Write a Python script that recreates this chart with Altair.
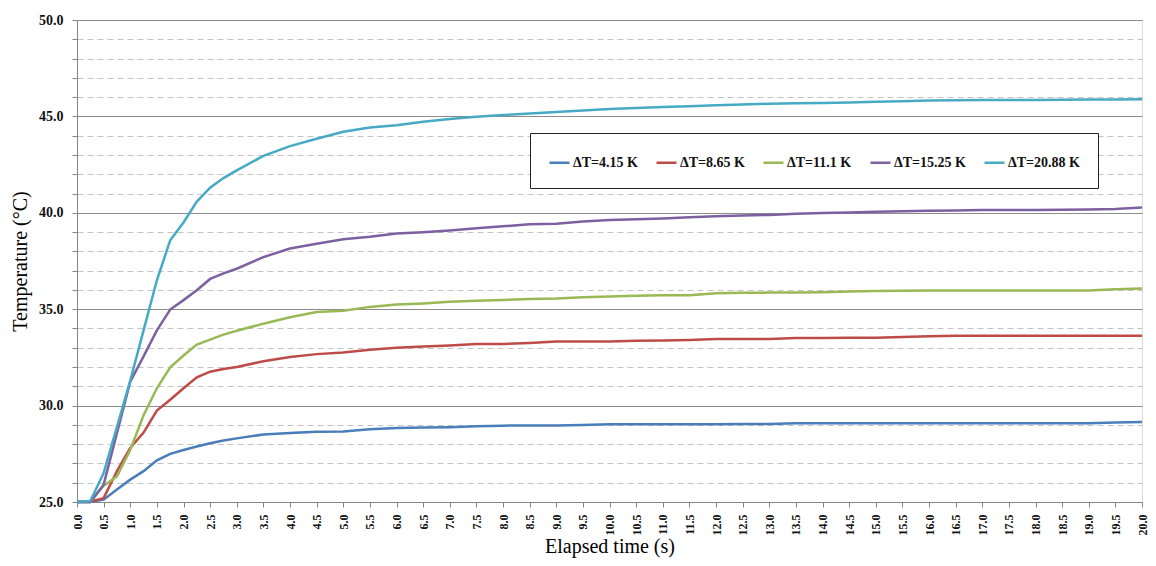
import altair as alt
import pandas as pd

times = [0.0, 0.25, 0.5, 0.75, 1.0, 1.25, 1.5, 1.75, 2.0, 2.25, 2.5, 2.75, 3.0,
         3.5, 4.0, 4.5, 5.0, 5.5, 6.0, 6.5, 7.0, 7.5, 8.0, 8.5, 9.0, 9.5, 10.0,
         10.5, 11.0, 11.5, 12.0, 12.5, 13.0, 13.5, 14.0, 14.5, 15.0, 15.5, 16.0,
         16.5, 17.0, 17.5, 18.0, 18.5, 19.0, 19.5, 20.0]

series_names = ["ΔT=4.15 K", "ΔT=8.65 K", "ΔT=11.1 K", "ΔT=15.25 K", "ΔT=20.88 K"]
series_colors = ["#4A7EBB", "#BE4B48", "#98B954", "#7D60A0", "#46AAC5"]

dt_4_15 = [25.0, 25.0, 25.12, 25.65, 26.16, 26.6, 27.16, 27.5, 27.7, 27.88, 28.05, 28.19, 28.3,
           28.5, 28.58, 28.65, 28.66, 28.77, 28.84, 28.86, 28.88, 28.93, 28.96, 28.97, 28.97, 29.0, 29.03,
           29.03, 29.03, 29.03, 29.03, 29.04, 29.05, 29.08, 29.08, 29.08, 29.08, 29.08, 29.08,
           29.08, 29.08, 29.08, 29.08, 29.08, 29.08, 29.12, 29.15]
dt_8_65 = [25.0, 25.03, 25.2, 26.6, 27.8, 28.6, 29.74, 30.3, 30.9, 31.47, 31.76, 31.9, 32.0,
           32.3, 32.52, 32.67, 32.75, 32.9, 33.0, 33.06, 33.12, 33.2, 33.2, 33.25, 33.32, 33.32, 33.33,
           33.36, 33.38, 33.4, 33.45, 33.45, 33.46, 33.5, 33.5, 33.52, 33.52, 33.56, 33.6,
           33.62, 33.62, 33.62, 33.62, 33.62, 33.62, 33.62, 33.62]
dt_11_1 = [25.0, 25.0, 25.84, 26.33, 27.7, 29.5, 30.9, 31.98, 32.6, 33.17, 33.42, 33.68, 33.88,
           34.25, 34.58, 34.85, 34.92, 35.12, 35.24, 35.3, 35.39, 35.44, 35.48, 35.53, 35.55, 35.62, 35.66,
           35.7, 35.72, 35.72, 35.83, 35.85, 35.86, 35.87, 35.88, 35.92, 35.94, 35.96, 35.97,
           35.97, 35.97, 35.97, 35.97, 35.97, 35.97, 36.03, 36.08]
dt_15_25 = [25.0, 25.0, 25.9, 28.57, 31.24, 32.55, 33.9, 34.98, 35.47, 35.98, 36.57, 36.86, 37.1,
            37.7, 38.15, 38.4, 38.63, 38.76, 38.93, 38.99, 39.08, 39.2, 39.3, 39.4, 39.43, 39.55, 39.63,
            39.66, 39.7, 39.77, 39.82, 39.86, 39.89, 39.95, 39.99, 40.02, 40.06, 40.08, 40.1,
            40.12, 40.14, 40.15, 40.15, 40.16, 40.17, 40.2, 40.27]
dt_20_88 = [25.0, 25.05, 26.5, 28.9, 31.3, 33.9, 36.5, 38.57, 39.5, 40.58, 41.3, 41.8, 42.2,
            42.95, 43.46, 43.84, 44.2, 44.42, 44.54, 44.72, 44.87, 44.98, 45.07, 45.15, 45.23, 45.3, 45.38,
            45.43, 45.49, 45.52, 45.58, 45.62, 45.66, 45.68, 45.7, 45.72, 45.76, 45.79, 45.82,
            45.84, 45.85, 45.85, 45.85, 45.86, 45.88, 45.88, 45.89]

all_series = [dt_4_15, dt_8_65, dt_11_1, dt_15_25, dt_20_88]

x_ticks = [i * 0.5 for i in range(41)]
y_ticks = list(range(25, 51))

rows = []
for name, vals in zip(series_names, all_series):
    for t, v in zip(times, vals):
        rows.append({"time": t, "temp": v, "series": name})
df = pd.DataFrame(rows)

serif = "Liberation Serif"

chart = alt.Chart(df).mark_line(strokeWidth=2.5).encode(
    x=alt.X("time:Q",
            scale=alt.Scale(domain=[0, 20], nice=False),
            axis=alt.Axis(values=x_ticks, format=".1f", labelAngle=270,
                          title="Elapsed time (s)", grid=False,
                          labelFont=serif, labelFontWeight="bold", labelFontSize=12,
                          labelColor="#111111", labelPadding=7,
                          tickColor="#868686", tickSize=5, domainColor="#868686",
                          titleFont=serif, titleFontSize=20, titleFontWeight="normal",
                          titleColor="#000000", titleY=44, titleBaseline="middle")),
    y=alt.Y("temp:Q",
            scale=alt.Scale(domain=[25, 50], nice=False),
            axis=alt.Axis(values=y_ticks,
                          labelExpr="datum.value % 5 === 0 ? format(datum.value, '.1f') : ''",
                          title="Temperature (°C)",
                          grid=True,
                          gridColor={"condition": {"test": "datum.value % 5 === 0", "value": "#8C8C8C"},
                                     "value": "#C4C4C4"},
                          gridDash={"condition": {"test": "datum.value % 5 === 0", "value": []},
                                    "value": [6, 4]},
                          gridWidth=1.2,
                          labelFont=serif, labelFontWeight="bold", labelFontSize=14,
                          labelColor="#111111", labelPadding=9,
                          tickColor="#868686", tickSize=5, domainColor="#868686",
                          titleFont=serif, titleFontSize=20, titleFontWeight="normal",
                          titleColor="#000000", titleX=-57, titleY=241, titleAngle=270,
                          titleAlign="center", titleBaseline="middle")),
    color=alt.Color("series:N",
                    scale=alt.Scale(domain=series_names, range=series_colors),
                    legend=alt.Legend(title=None, orient="none", legendX=453, legendY=113,
                                      direction="horizontal", columns=5, columnPadding=13,
                                      symbolType="stroke", symbolSize=400, symbolStrokeWidth=2.5,
                                      labelFont=serif, labelFontWeight="bold", labelFontSize=14,
                                      labelColor="#111111", labelOffset=2,
                                      padding=18, strokeColor="#222222", fillColor="#FFFFFF")),
).properties(
    width=1065, height=482,
    autosize=alt.AutoSizeParams(type="none"),
    padding={"left": 69, "top": 12, "right": 6, "bottom": 56},
).configure_view(stroke=None).configure(background="#FFFFFF")

chart.save("out.html", embed_options={"renderer": "svg", "actions": False})
